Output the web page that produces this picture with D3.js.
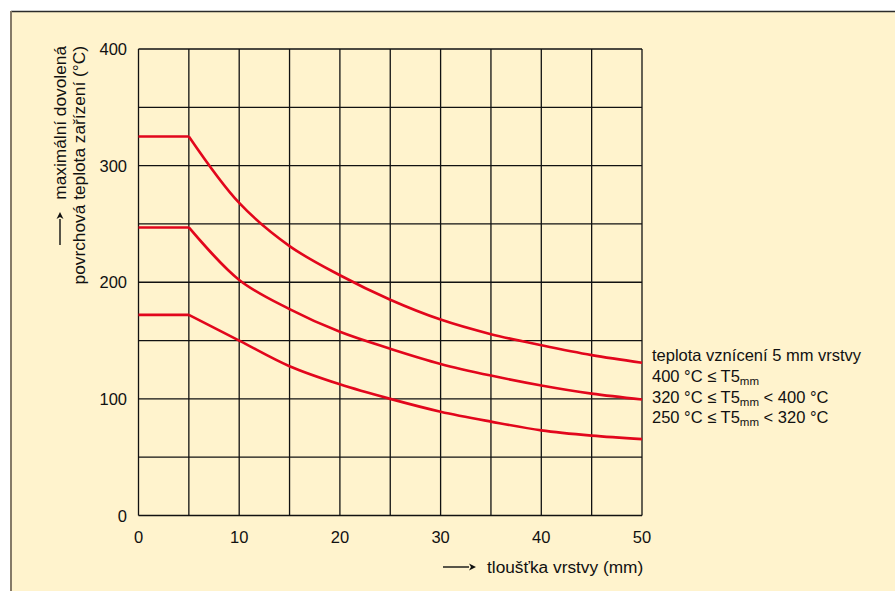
<!DOCTYPE html>
<html>
<head>
<meta charset="utf-8">
<script src="https://cdn.jsdelivr.net/npm/d3@7"></script>
<style>
  html, body { margin: 0; padding: 0; background: #fff; }
  svg { display: block; font-family: "Liberation Sans", Arial, sans-serif; }
</style>
</head>
<body>
<svg id="chart" width="895" height="591"></svg>
<script>
// thickness of the dust layer (mm)
const thickness = [0, 5, 10, 15, 20, 25, 30, 35, 40, 45, 50];
// max permitted surface temperature (°C) per ignition class
const t400 = [325, 325, 268, 231, 206, 185, 168, 155.5, 146, 137.5, 131];
const t320 = [247, 247, 202, 177, 157.5, 143, 130, 120, 111.5, 104.5, 99.5];
const t250 = [172, 172, 150, 128, 112.5, 100, 89, 80.5, 73, 68.5, 65.5];
const series = [t400, t320, t250];

const xTicks = [0, 10, 20, 30, 40, 50];
const yTicks = [0, 100, 200, 300, 400];

const legendTitle = 'teplota vznícení 5 mm vrstvy';
const legendRows = [
  ['400 °C ≤ T5', 'mm', ''],
  ['320 °C ≤ T5', 'mm', ' < 400 °C'],
  ['250 °C ≤ T5', 'mm', ' < 320 °C']
];

const svg = d3.select('#chart');

// cream panel with its border on the top and left
svg.append('rect').attr('x', 11).attr('y', 11).attr('width', 884).attr('height', 580)
  .attr('fill', '#fff3cd');
svg.append('line').attr('x1', 11).attr('x2', 895).attr('y1', 11.5).attr('y2', 11.5)
  .attr('stroke', '#2b2b2b').attr('stroke-width', 1.5);
svg.append('line').attr('x1', 11).attr('x2', 11).attr('y1', 11).attr('y2', 591)
  .attr('stroke', '#857a68').attr('stroke-width', 2);

const x = d3.scaleLinear().domain([0, 50]).range([138.5, 642]);
const y = d3.scaleLinear().domain([0, 400]).range([515.5, 49]);

// grid
const grid = svg.append('g').attr('stroke', '#111').attr('stroke-width', 1.3);
grid.selectAll('.vx').data(d3.range(0, 51, 5)).join('line')
  .attr('x1', d => x(d)).attr('x2', d => x(d))
  .attr('y1', y(0)).attr('y2', y(400));
grid.selectAll('.hy').data(d3.range(0, 401, 50)).join('line')
  .attr('x1', x(0)).attr('x2', x(50))
  .attr('y1', d => y(d)).attr('y2', d => y(d));

// tick labels
svg.append('g').selectAll('text').data(xTicks).join('text')
  .attr('x', d => x(d)).attr('y', 543)
  .attr('text-anchor', 'middle').attr('font-size', 16.5).attr('fill', '#111')
  .text(d => d);
svg.append('g').selectAll('text').data(yTicks).join('text')
  .attr('x', 127).attr('y', d => y(d) + 6)
  .attr('text-anchor', 'end').attr('font-size', 16.5).attr('fill', '#111')
  .text(d => d);

// curves: flat part up to 5 mm, then the falling curve
const flat = d3.line().x(d => x(d[0])).y(d => y(d[1]));
const fall = d3.line().x(d => x(d[0])).y(d => y(d[1])).curve(d3.curveCatmullRom);
const lines = svg.append('g').attr('fill', 'none').attr('stroke', '#e2061c')
  .attr('stroke-width', 2.6).attr('stroke-linejoin', 'round');
series.forEach(s => {
  const pts = thickness.map((t, i) => [t, s[i]]);
  lines.append('path').attr('d', flat(pts.slice(0, 2)));
  lines.append('path').attr('d', fall(pts.slice(1)));
});

// legend on the right
const leg = svg.append('g').attr('font-size', 16.5).attr('fill', '#111');
leg.append('text').attr('x', 652).attr('y', 361).text(legendTitle);
legendRows.forEach((r, i) => {
  const t = leg.append('text').attr('x', 652).attr('y', 382 + i * 20.5);
  t.append('tspan').text(r[0]);
  t.append('tspan').attr('font-size', 11.5).attr('dy', 3).text(r[1]);
  t.append('tspan').attr('dy', -3).text(r[2]);
});

// arrows
function arrow(x1, y1, x2, y2) {
  const a = Math.atan2(y2 - y1, x2 - x1), h = 7, w = 3.5;
  const bx = x2 - h * Math.cos(a), by = y2 - h * Math.sin(a);
  const g = svg.append('g');
  g.append('line').attr('x1', x1).attr('y1', y1).attr('x2', bx).attr('y2', by)
    .attr('stroke', '#111').attr('stroke-width', 1.4);
  g.append('path')
    .attr('d', `M${x2},${y2} L${bx - w * Math.sin(a)},${by + w * Math.cos(a)} L${bx + 2 * Math.cos(a)},${by + 2 * Math.sin(a)} L${bx + w * Math.sin(a)},${by - w * Math.cos(a)} Z`)
    .attr('fill', '#111');
}

// x axis title
arrow(443, 567, 476, 567);
svg.append('text').attr('x', 487).attr('y', 573).attr('font-size', 17.3).attr('fill', '#111')
  .text('tloušťka vrstvy (mm)');

// y axis title (rotated, two lines)
arrow(60, 245, 60, 212);
svg.append('text').attr('transform', 'translate(66,46) rotate(-90)')
  .attr('text-anchor', 'end').attr('font-size', 17.3).attr('fill', '#111')
  .text('maximální dovolená');
svg.append('text').attr('transform', 'translate(85,46) rotate(-90)')
  .attr('text-anchor', 'end').attr('font-size', 17.3).attr('fill', '#111')
  .text('povrchová teplota zařízení (°C)');
</script>
</body>
</html>
